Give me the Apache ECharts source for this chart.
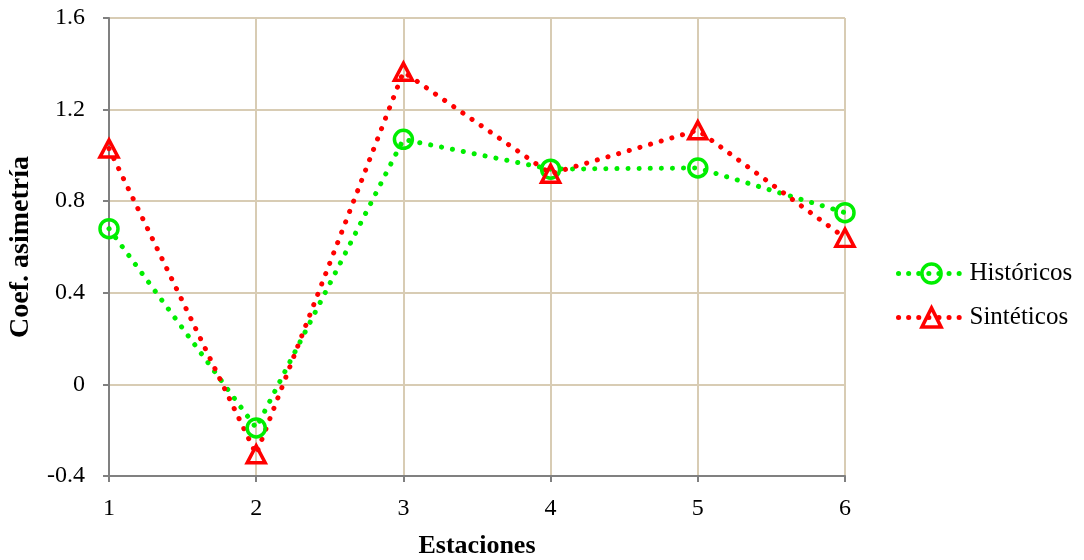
<!DOCTYPE html>
<html><head><meta charset="utf-8">
<script src="https://cdn.jsdelivr.net/npm/echarts@6/dist/echarts.min.js"></script>
<style>html,body{margin:0;padding:0;background:#fff}#c{width:1084px;height:560px}</style>
</head><body><div id="c"></div>
<script>
const categories = ['1','2','3','4','5','6'];
const historicos = [0.68, -0.19, 1.07, 0.94, 0.945, 0.75];
const sinteticos = [1.03, -0.305, 1.365, 0.92, 1.11, 0.64];
const yTicks = {min: -0.4, max: 1.6, interval: 0.4};

const font = '"Liberation Serif", "Times New Roman", serif';
const chart = echarts.init(document.getElementById('c'));
chart.setOption({
  animation: false,
  backgroundColor: '#fff',
  grid: {left: 109, right: 239, top: 18, bottom: 84, containLabel: false, outerBoundsMode: 'none'},
  xAxis: {
    type: 'category', data: categories, boundaryGap: false,
    name: 'Estaciones', nameLocation: 'middle', nameGap: 57,
    nameTextStyle: {fontFamily: font, fontSize: 26, fontWeight: 'bold', color: '#000'},
    axisLine: {onZero: false, lineStyle: {color: '#808080', width: 2}},
    axisTick: {show: true, length: 6, lineStyle: {color: '#808080', width: 2}, alignWithLabel: true},
    axisLabel: {fontFamily: font, fontSize: 24, color: '#000', margin: 21},
    splitLine: {show: true, lineStyle: {color: '#d8ccb4', width: 2}}
  },
  yAxis: {
    type: 'value', min: yTicks.min, max: yTicks.max, interval: yTicks.interval,
    name: 'Coef. asimetría', nameLocation: 'middle', nameGap: 74, nameRotate: 90,
    nameTextStyle: {fontFamily: font, fontSize: 28, fontWeight: 'bold', color: '#000'},
    axisLine: {show: true, lineStyle: {color: '#808080', width: 2}},
    axisTick: {show: true, length: 6, lineStyle: {color: '#808080', width: 2}},
    axisLabel: {fontFamily: font, fontSize: 24, color: '#000', margin: 24,
      formatter: v => String(Math.round(v*10)/10)},
    splitLine: {show: true, lineStyle: {color: '#d8ccb4', width: 2}}
  },
  legend: {
    orient: 'vertical', left: 891, top: 256, itemGap: 19,
    itemWidth: 66, itemHeight: 24,
    textStyle: {fontFamily: font, fontSize: 25, color: '#000'},
    lineStyle: {width: 5, type: [0.1, 10], cap: 'round'},
    itemStyle: {borderWidth: 3.5},
    data: ['Históricos', 'Sintéticos']
  },
  series: [
    {
      name: 'Históricos', type: 'line', data: historicos,
      symbol: 'circle', symbolSize: 18,
      lineStyle: {color: '#00ee00', width: 5, type: [0.1, 11], cap: 'round'},
      itemStyle: {color: 'rgba(255,255,255,0)', borderColor: '#00ee00', borderWidth: 3.5}
    },
    {
      name: 'Sintéticos', type: 'line', data: sinteticos,
      symbol: 'triangle', symbolSize: [18, 17],
      lineStyle: {color: '#ff0000', width: 5, type: [0.1, 11], cap: 'round'},
      itemStyle: {color: 'rgba(255,255,255,0)', borderColor: '#ff0000', borderWidth: 3.5}
    }
  ]
});
</script></body></html>
